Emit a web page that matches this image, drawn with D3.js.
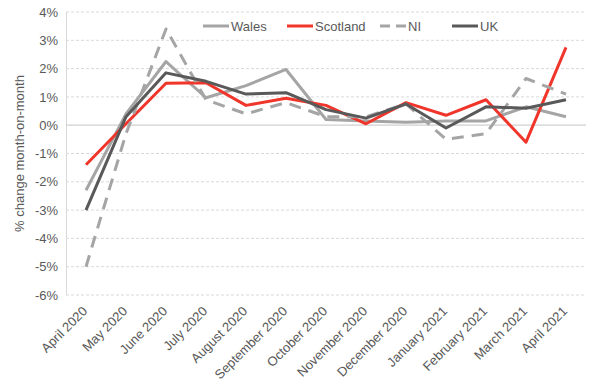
<!DOCTYPE html>
<html>
<head>
<meta charset="utf-8">
<script src="https://cdn.jsdelivr.net/npm/d3@7"></script>
<style>
	body { margin: 0; background: #fff; }
	svg { display: block; font-family: "Liberation Sans", Arial, sans-serif; }
</style>
</head>
<body>
<div id="chart"></div>
<script>
let months = ["April 2020", "May 2020", "June 2020", "July 2020", "August 2020", "September 2020",
	"October 2020", "November 2020", "December 2020", "January 2021", "February 2021", "March 2021", "April 2021"];
let wales = [-2.3, 0.4, 2.25, 0.97, 1.4, 1.97, 0.2, 0.15, 0.1, 0.15, 0.15, 0.65, 0.3];
let scotland = [-1.4, 0.05, 1.48, 1.5, 0.7, 0.95, 0.7, 0.05, 0.8, 0.35, 0.9, -0.6, 2.75];
let ni = [-5.0, -0.3, 3.4, 0.9, 0.4, 0.8, 0.3, 0.3, 0.75, -0.5, -0.3, 1.65, 1.1];
let uk = [-3.0, 0.3, 1.85, 1.55, 1.1, 1.15, 0.55, 0.25, 0.75, -0.1, 0.65, 0.6, 0.9];
let yTicks = [-6, -5, -4, -3, -2, -1, 0, 1, 2, 3, 4];

let series = [
	{ name: "Wales", values: wales, color: "#A5A5A5", dash: null },
	{ name: "Scotland", values: scotland, color: "#F0362B", dash: null },
	{ name: "NI", values: ni, color: "#A5A5A5", dash: "12,8" },
	{ name: "UK", values: uk, color: "#595959", dash: null }
];

let width = 600;
let height = 387;
let margin = { top: 12, right: 14, bottom: 92, left: 66 };

let svg = d3.select("#chart")
	.append("svg")
	.attr("width", width)
	.attr("height", height);

let x = d3.scaleBand()
	.domain(months)
	.range([margin.left, width - margin.right]);

let y = d3.scaleLinear()
	.domain([-6, 4])
	.range([height - margin.bottom, margin.top]);

// gridlines
svg.append("g")
	.selectAll("line")
	.data(yTicks.filter(d => d !== 0))
	.enter()
	.append("line")
	.attr("x1", margin.left)
	.attr("x2", width - margin.right)
	.attr("y1", d => y(d))
	.attr("y2", d => y(d))
	.attr("stroke", "#D9D9D9")
	.attr("stroke-width", 1)
	.attr("stroke-dasharray", "3,2");

// left axis line
svg.append("line")
	.attr("x1", margin.left + 0.5)
	.attr("x2", margin.left + 0.5)
	.attr("y1", y(4))
	.attr("y2", y(-6))
	.attr("stroke", "#D9D9D9");

// zero line
svg.append("line")
	.attr("x1", margin.left)
	.attr("x2", width - margin.right)
	.attr("y1", y(0))
	.attr("y2", y(0))
	.attr("stroke", "#D0D0D0")
	.attr("stroke-width", 1.2);

// y axis
svg.append("g")
	.attr("transform", "translate(" + margin.left + ",0)")
	.call(d3.axisLeft(y).tickValues(yTicks).tickSize(0).tickPadding(8).tickFormat(d => d + "%"))
	.call(g => g.select(".domain").remove())
	.call(g => g.selectAll("text")
		.attr("fill", "#595959")
		.style("font-size", "13px")
		.style("font-family", "Liberation Sans, Arial, sans-serif"));

// x axis labels
svg.append("g")
	.attr("transform", "translate(0," + (height - margin.bottom) + ")")
	.call(d3.axisBottom(x).tickSize(0).tickPadding(0))
	.call(g => g.select(".domain").remove())
	.call(g => g.selectAll("text")
		.attr("fill", "#595959")
		.style("font-size", "13px")
		.style("font-family", "Liberation Sans, Arial, sans-serif")
		.attr("text-anchor", "end")
		.attr("dy", "0")
		.attr("transform", "translate(2,17) rotate(-45)"));

// y axis title
svg.append("text")
	.attr("transform", "translate(24," + ((margin.top + height - margin.bottom) / 2) + ") rotate(-90)")
	.attr("text-anchor", "middle")
	.attr("fill", "#595959")
	.style("font-size", "13px")
	.text("% change month-on-month");

// lines
let line = d3.line()
	.x((d, i) => x(months[i]) + x.bandwidth() / 2)
	.y(d => y(d));

svg.append("g")
	.selectAll("path")
	.data(series)
	.enter()
	.append("path")
	.attr("d", d => line(d.values))
	.attr("fill", "none")
	.attr("stroke", d => d.color)
	.attr("stroke-width", 3)
	.attr("stroke-dasharray", d => d.dash)
	.attr("stroke-linejoin", "round");

// legend
let legendX = [203, 287, 380, 452];
let legend = svg.append("g")
	.selectAll("g")
	.data(series)
	.enter()
	.append("g")
	.attr("transform", (d, i) => "translate(" + legendX[i] + ",26)");

legend.append("line")
	.attr("x1", 0)
	.attr("x2", 26)
	.attr("stroke", d => d.color)
	.attr("stroke-width", 3)
	.attr("stroke-dasharray", d => d.dash ? "10,6" : null);

legend.append("text")
	.attr("x", 28)
	.attr("y", 5)
	.attr("fill", "#595959")
	.style("font-size", "13px")
	.text(d => d.name);
</script>
</body>
</html>
